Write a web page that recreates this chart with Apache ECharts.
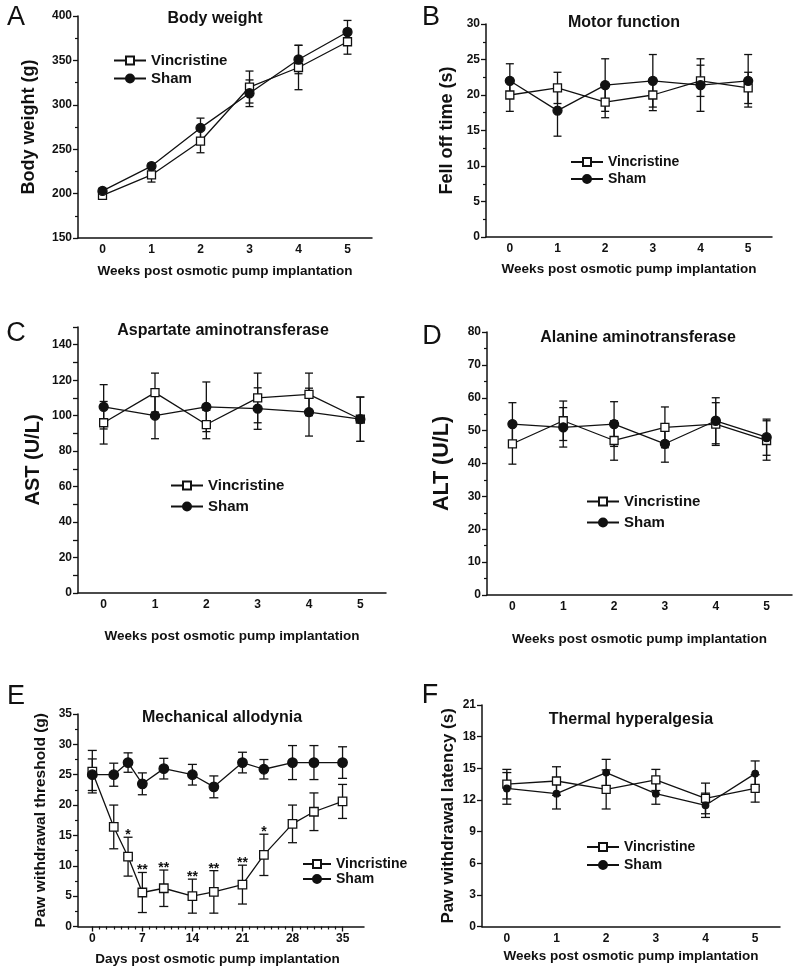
<!DOCTYPE html>
<html><head><meta charset="utf-8">
<script src="https://cdn.jsdelivr.net/npm/echarts@6/dist/echarts.min.js"></script>
<style>html,body{margin:0;padding:0;background:#fff}#c{width:798px;height:973px}</style>
</head><body><div id="c"></div>
<script>
// ---------- data ----------
const weeks = ['0', '1', '2', '3', '4', '5'];

// A: Body weight (g)
const bwVin = [198, 221, 259, 320, 342, 371];
const bwVinErr = [3, 8, 13, 18, 25, 14];
const bwSham = [203, 231, 274, 313, 351, 382];
const bwShamErr = [3, 3, 11, 15, 16, 13];

// B: Motor function, fell off time (s)
const mfVin = [20, 21, 19, 20, 22, 21];
const mfVinErr = [2.3, 2.2, 2.2, 2.2, 2.2, 2.2];
const mfSham = [22, 17.8, 21.4, 22, 21.4, 22];
const mfShamErr = [2.4, 3.6, 3.7, 3.7, 3.7, 3.7];

// C: AST (U/L)
const astVin = [96, 113, 95, 110, 112, 98];
const astVinErr = [12, 11, 8, 14, 12, 12.5];
const astSham = [105, 100, 105, 104, 102, 98];
const astShamErr = [12.5, 13, 14, 11.7, 13.5, 12.5];

// D: ALT (U/L)
const altVin = [46, 53, 47, 51, 52, 47];
const altVinErr = [6.2, 6, 6, 6.2, 6.5, 6];
const altSham = [52, 51, 52, 46, 53, 48];
const altShamErr = [6.5, 6, 6.8, 5.6, 7, 5.5];

// E: Mechanical allodynia, paw withdrawal threshold (g)
const days = [0, 3, 5, 7, 10, 14, 17, 21, 24, 28, 31, 35];
const maVin = [25.5, 16.4, 11.5, 5.6, 6.3, 5.0, 5.7, 6.9, 11.8, 16.9, 18.9, 20.6];
const maVinErr = [3.5, 3.6, 3.2, 3.3, 3.0, 2.8, 3.5, 3.2, 3.4, 3.1, 3.1, 2.8];
const maSham = [25, 25, 27, 23.5, 26, 25, 23, 27, 25.9, 27, 27, 27];
const maShamErr = [2.6, 1.9, 1.6, 1.8, 1.7, 1.7, 1.8, 1.7, 1.6, 2.8, 2.8, 2.6];
const maSig = ['', '', '*', '**', '**', '**', '**', '**', '*', '', '', ''];

// F: Thermal hyperalgesia, paw withdrawal latency (s)
const thVin = [13.5, 13.8, 13.0, 13.9, 12.15, 13.1];
const thVinErr = [1.4, 1.35, 1.85, 1.0, 1.45, 1.3];
const thSham = [13.1, 12.6, 14.6, 12.6, 11.5, 14.5];
const thShamErr = [1.5, 1.45, 1.25, 1.0, 1.15, 1.2];

// ---------- helpers ----------
const FONT = '"Liberation Sans", Arial, Helvetica, sans-serif';
const INK = '#111';
const weekIdx = weeks.map((w, i) => i);

function makeErrRender(w) {
  return function (params, api) {
    const x = api.value(0), lo = api.value(1), hi = api.value(2);
    const t = api.coord([x, hi]), b = api.coord([x, lo]);
    const st = { stroke: INK, lineWidth: 1.3 };
    return { type: 'group', children: [
      { type: 'line', shape: { x1: t[0], y1: t[1], x2: b[0], y2: b[1] }, style: st },
      { type: 'line', shape: { x1: t[0] - w, y1: t[1], x2: t[0] + w, y2: t[1] }, style: st },
      { type: 'line', shape: { x1: b[0] - w, y1: b[1], x2: b[0] + w, y2: b[1] }, style: st }
    ] };
  };
}
function errSeries(ai, xs, mean, err, w) {
  return { type: 'custom', xAxisIndex: ai, yAxisIndex: ai, z: 2, silent: true,
    renderItem: makeErrRender(w), encode: { x: 0, y: [1, 2] },
    data: xs.map((x, i) => [x, mean[i] - err[i], mean[i] + err[i]]) };
}
function lineSeries(name, ai, xs, ys, symbol, size, filled) {
  return { type: 'line', name: name, xAxisIndex: ai, yAxisIndex: ai, z: 3,
    data: xs.map((x, i) => [x, ys[i]]), symbol: symbol, symbolSize: size, showSymbol: true,
    lineStyle: { color: INK, width: 1.3 },
    itemStyle: { color: filled ? INK : '#fff', borderColor: INK, borderWidth: 1.3 } };
}
function catX(gi, gap) {
  return { type: 'category', gridIndex: gi, data: weeks, boundaryGap: true,
    axisLine: { onZero: false, lineStyle: { color: INK, width: 1.5 } },
    axisTick: { alignWithLabel: true, length: 5, lineStyle: { color: INK, width: 1.3 } },
    axisLabel: { color: INK, fontWeight: 'bold', fontSize: 12, fontFamily: FONT, margin: 6 },
    splitLine: { show: false },
    name: 'Weeks post osmotic pump implantation', nameLocation: 'middle', nameGap: gap,
    nameTextStyle: { color: INK, fontWeight: 'bold', fontSize: 13.5, fontFamily: FONT } };
}
function valY(gi, min, max, interval, minor, name, nameSize, gap, fmt) {
  return { type: 'value', gridIndex: gi, min: min, max: max, interval: interval,
    axisLine: { show: true, onZero: false, lineStyle: { color: INK, width: 1.5 } },
    axisTick: { show: true, length: 5, lineStyle: { color: INK, width: 1.3 } },
    minorTick: { show: minor, splitNumber: 2, length: 3, lineStyle: { color: INK, width: 1.2 } },
    axisLabel: { color: INK, fontWeight: 'bold', fontSize: 12, fontFamily: FONT, margin: 6, formatter: fmt },
    splitLine: { show: false }, minorSplitLine: { show: false },
    name: name, nameLocation: 'middle', nameGap: gap, nameRotate: 90,
    nameTextStyle: { color: INK, fontWeight: 'bold', fontSize: nameSize, fontFamily: FONT } };
}
function legend(p, left, top, size, itemGap, iw) {
  return { data: ['Vincristine#' + p, 'Sham#' + p], orient: 'vertical', left: left, top: top,
    itemWidth: iw || 32, itemHeight: 10, itemGap: itemGap, selectedMode: false, padding: 0,
    formatter: n => n.split('#')[0],
    textStyle: { fontSize: size, fontWeight: 'bold', color: INK, fontFamily: FONT } };
}
function txt(text, x, y, size, weight) {
  return { type: 'text', x: x, y: y, silent: true,
    style: { text: text, font: weight + ' ' + size + 'px ' + FONT, fill: INK, align: 'center', verticalAlign: 'middle' } };
}

// ---------- option ----------
const grids = [
  { left: 78, top: 16, width: 294, height: 222 },      // 0 A
  { left: 486, top: 24, width: 286, height: 213 },     // 1 B
  { left: 78, top: 327, width: 308, height: 266 },     // 2 C
  { left: 487, top: 332, width: 305, height: 263 },    // 3 D
  { left: 78, top: 714, width: 286, height: 212.5 },   // 4 E (data)
  { left: 92.3, top: 714, width: 250.4, height: 212.5 }, // 5 E (ticks)
  { left: 482, top: 705, width: 298, height: 221.7 }   // 6 F
].map(g => Object.assign({ outerBoundsMode: 'none', containLabel: false }, g));

const xAxes = [
  catX(0, 26), catX(1, 25), catX(2, 36), catX(3, 37),
  { type: 'value', gridIndex: 4, min: -2, max: 38,
    axisLine: { onZero: false, lineStyle: { color: INK, width: 1.5 } },
    axisTick: { show: false }, axisLabel: { show: false }, splitLine: { show: false } },
  { type: 'value', gridIndex: 5, min: 0, max: 35, interval: 7,
    axisLine: { show: false },
    axisTick: { show: true, length: 5, lineStyle: { color: INK, width: 1.3 } },
    minorTick: { show: true, splitNumber: 7, length: 3, lineStyle: { color: INK, width: 1.2 } },
    axisLabel: { color: INK, fontWeight: 'bold', fontSize: 12, fontFamily: FONT, margin: 6 },
    splitLine: { show: false }, minorSplitLine: { show: false },
    name: 'Days post osmotic pump implantation', nameLocation: 'middle', nameGap: 26,
    nameTextStyle: { color: INK, fontWeight: 'bold', fontSize: 13.5, fontFamily: FONT } },
  catX(6, 23)
];
const yAxes = [
  valY(0, 150, 400, 50, true, 'Body weight (g)', 18, 40),
  valY(1, 0, 30, 5, true, 'Fell off time (s)', 18, 30),
  valY(2, 0, 150, 10, false, 'AST (U/L)', 20, 35, v => (v % 20 === 0 ? String(v) : '')),
  valY(3, 0, 80, 10, true, 'ALT (U/L)', 21.5, 34),
  valY(4, 0, 35, 5, true, 'Paw withdrawal threshold (g)', 15.5, 29),
  { type: 'value', gridIndex: 5, min: 0, max: 35, show: false },
  valY(6, 0, 21, 3, false, 'Paw withdrawal latency (s)', 17, 25)
];

const sigRender = function (params, api) {
  const p = api.coord([api.value(0), api.value(1)]);
  return { type: 'text', x: p[0], y: p[1] - 9, silent: true,
    style: { text: maSig[params.dataIndex], font: 'bold 14px ' + FONT, fill: INK, align: 'center', verticalAlign: 'top' } };
};

const series = [
  errSeries(0, weekIdx, bwVin, bwVinErr, 4), errSeries(0, weekIdx, bwSham, bwShamErr, 4),
  lineSeries('Vincristine#A', 0, weekIdx, bwVin, 'rect', 8, false),
  lineSeries('Sham#A', 0, weekIdx, bwSham, 'circle', 9, true),

  errSeries(1, weekIdx, mfVin, mfVinErr, 4), errSeries(1, weekIdx, mfSham, mfShamErr, 4),
  lineSeries('Vincristine#B', 1, weekIdx, mfVin, 'rect', 8, false),
  lineSeries('Sham#B', 1, weekIdx, mfSham, 'circle', 9, true),

  errSeries(2, weekIdx, astVin, astVinErr, 4), errSeries(2, weekIdx, astSham, astShamErr, 4),
  lineSeries('Vincristine#C', 2, weekIdx, astVin, 'rect', 8, false),
  lineSeries('Sham#C', 2, weekIdx, astSham, 'circle', 9, true),

  errSeries(3, weekIdx, altVin, altVinErr, 4), errSeries(3, weekIdx, altSham, altShamErr, 4),
  lineSeries('Vincristine#D', 3, weekIdx, altVin, 'rect', 8, false),
  lineSeries('Sham#D', 3, weekIdx, altSham, 'circle', 9, true),

  errSeries(4, days, maVin, maVinErr, 4.5), errSeries(4, days, maSham, maShamErr, 4.5),
  lineSeries('Vincristine#E', 4, days, maVin, 'rect', 8.5, false),
  lineSeries('Sham#E', 4, days, maSham, 'circle', 9.5, true),
  { type: 'custom', xAxisIndex: 4, yAxisIndex: 4, z: 4, silent: true, renderItem: sigRender,
    encode: { x: 0, y: 1 }, data: days.map((d, i) => [d, maVin[i] + maVinErr[i]]) },

  errSeries(6, weekIdx, thVin, thVinErr, 4.5), errSeries(6, weekIdx, thSham, thShamErr, 4.5),
  lineSeries('Vincristine#F', 6, weekIdx, thVin, 'rect', 8, false),
  lineSeries('Sham#F', 6, weekIdx, thSham, 'circle', 6.5, true)
];

const option = {
  animation: false,
  backgroundColor: '#fff',
  grid: grids, xAxis: xAxes, yAxis: yAxes, series: series,
  legend: [
    legend('A', 113, 53, 15, 3), legend('B', 570, 155, 14, 3),
    legend('C', 170, 478, 15, 6), legend('D', 586, 494, 15, 6),
    legend('E', 302, 857, 14, 1, 28), legend('F', 586, 840, 14, 4)
  ],
  graphic: [
    txt('Body weight', 215, 18.5, 16, 'bold'),
    txt('Motor function', 624, 22.5, 16, 'bold'),
    txt('Aspartate aminotransferase', 223, 331, 16, 'bold'),
    txt('Alanine aminotransferase', 638, 338, 16, 'bold'),
    txt('Mechanical allodynia', 222, 717.5, 16, 'bold'),
    txt('Thermal hyperalgesia', 631, 720, 16, 'bold'),
    txt('A', 16, 18, 27, 'normal'),
    txt('B', 431, 18, 27, 'normal'),
    txt('C', 16, 334, 27, 'normal'),
    txt('D', 432, 337, 27, 'normal'),
    txt('E', 16, 697, 27, 'normal'),
    txt('F', 430, 696, 27, 'normal')
  ]
};

const chart = echarts.init(document.getElementById('c'), null, { renderer: 'canvas' });
chart.setOption(option);
</script>
</body></html>
